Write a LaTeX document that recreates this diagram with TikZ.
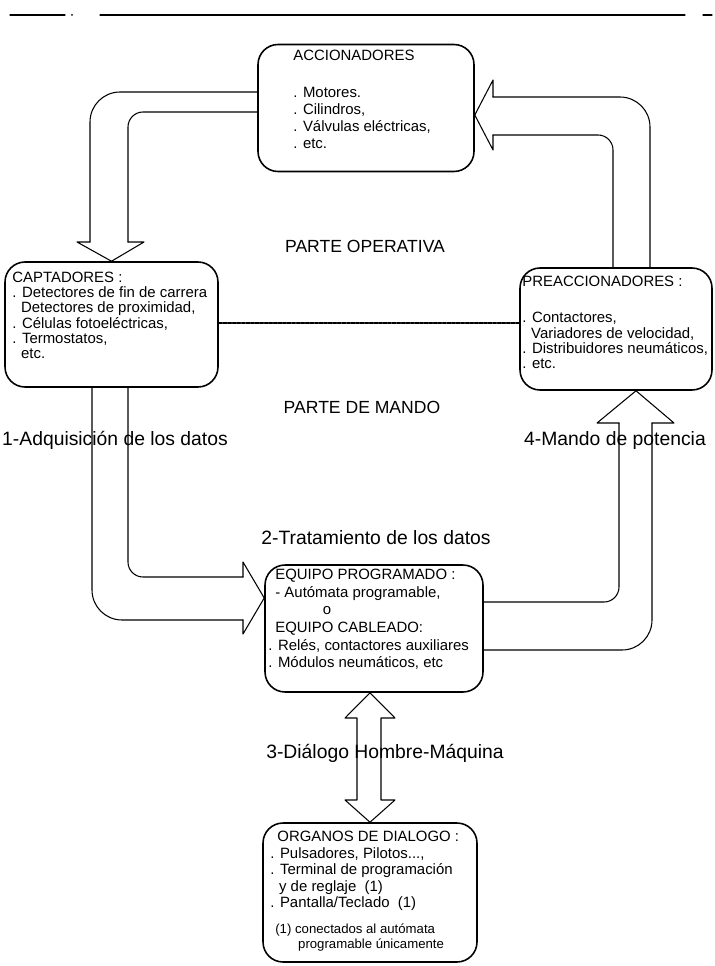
\documentclass[tikz,border=0pt]{standalone}
\usepackage{fontspec}
\setmainfont{Liberation Sans}
\tikzset{
  every picture/.style={line join=round, line cap=round},
  caja/.style={draw, rounded corners=0.4cm, line width=0.9pt, inner sep=0pt},
  texto/.style={anchor=north west, align=left, inner sep=0pt, font=\fontsize{8.5}{9.4}\selectfont},
  etiqueta/.style={inner sep=1pt, font=\fontsize{11}{13}\selectfont},
  flecha/.style={line width=0.6pt},
}
\begin{document}
\begin{tikzpicture}[x=0.02cm, y=-0.02cm]
\useasboundingbox (0,0) rectangle (715,966);
% raya de cabecera
\draw[line width=0.7pt] (10,15) -- (65,15) (100,15) -- (685,15) (703,15) -- (712,15);
\fill (72,15) circle (1);

% cajas
\node[caja, minimum width=4.32cm, minimum height=2.54cm] (acc) at (366,108) {};
\node[caja, minimum width=4.26cm, minimum height=2.5cm] (cap) at (111.5,324.5) {};
\node[caja, minimum width=3.84cm, minimum height=2.44cm] (pre) at (616,329) {};
\node[caja, minimum width=4.36cm, minimum height=2.54cm] (equ) at (374,628.5) {};
\node[caja, minimum width=4.28cm, minimum height=2.78cm] (dia) at (370,892.5) {};

\node[texto, font=\fontsize{8.5}{9.8}\selectfont] (acctxt) at (293,50)
  {ACCIONADORES\\[11pt] . Motores.\\ . Cilindros,\\ . Válvulas eléctricas,\\ . etc.};
\node[texto, font=\fontsize{8.5}{8.6}\selectfont] (captxt) at (12,272)
  {CAPTADORES :\\ . Detectores de fin de carrera\\ \hspace{5pt}Detectores de proximidad,\\
   . Células fotoeléctricas,\\ . Termostatos,\\ \hspace{5pt}etc.};
\node[texto, font=\fontsize{8.5}{8.6}\selectfont] (pretxt) at (522,276)
  {PREACCIONADORES :\\[12pt] . Contactores,\\ \hspace{5pt}Variadores de velocidad,\\
   . Distribuidores neumáticos,\\ . etc.};
\node[texto, font=\fontsize{8.5}{10}\selectfont] (equtxt) at (268,569)
  {\hspace{4pt}EQUIPO PROGRAMADO :\\ \hspace{4pt}- Autómata programable,\\ \hspace{31pt}o\\
   \hspace{4pt}EQUIPO CABLEADO:\\ . Relés, contactores auxiliares\\ . Módulos neumáticos, etc};
\node[texto] (diatxt) at (270,831)
  {\hspace{4pt}ORGANOS DE DIALOGO :\\ . Pulsadores, Pilotos...,\\ . Terminal de programación\\
   \hspace{5pt}y de reglaje \ (1)\\ . Pantalla/Teclado \ (1)};
\node[texto, font=\fontsize{7.5}{8.5}\selectfont] (notatxt) at (275,923)
  {(1) conectados al autómata\\ \hspace{13pt}programable únicamente};

% separacion operativa / mando
\draw[line width=0.8pt, dash pattern=on 2pt off 0.6pt] (cap.east |- 0,323) -- (pre.west |- 0,323);

% accionadores -> captadores
\draw[flecha, rounded corners=0.6cm] (acc.west |- 0,92) -| (90,242);
\draw[flecha, rounded corners=0.3cm] (acc.west |- 0,112) -| (128,242);
\draw[flecha] (90,242) -- (77,242) -- (cap.north) -- (144,242) -- (128,242);

% preaccionadores -> accionadores
\draw[flecha, rounded corners=0.3cm] (613,0 |- pre.north) |- (493,135);
\draw[flecha, rounded corners=0.6cm] (650,0 |- pre.north) |- (493,97);
\draw[flecha] (493,135) -- (493,150) -- (acc.east |- 0,115) -- (493,80) -- (493,97);

% captadores -> equipo
\draw[flecha, rounded corners=0.6cm] (92,0 |- cap.south) |- (243,620);
\draw[flecha, rounded corners=0.3cm] (128,0 |- cap.south) |- (243,577);
\draw[flecha] (243,577) -- (243,562) -- (equ.west |- 0,598) -- (243,634) -- (243,620);

% equipo -> preaccionadores
\draw[flecha, rounded corners=0.3cm] (equ.east |- 0,602) -| (619,423);
\draw[flecha, rounded corners=0.6cm] (equ.east |- 0,650) -| (652,423);
\draw[flecha] (619,423) -- (597,423) -- (636,0 |- pre.south) -- (674,423) -- (652,423);

% equipo <-> dialogo
\draw[flecha] (357,718) -- (345,718) -- (370,0 |- equ.south) -- (395,718) -- (381,718)
  -- (381,800) -- (395,800) -- (370,0 |- dia.north) -- (345,800) -- (357,800) -- cycle;

% rotulos
\node[etiqueta, font=\fontsize{10}{12}\selectfont] (opera) at (365,246) {PARTE OPERATIVA};
\node[etiqueta, font=\fontsize{10}{12}\selectfont] (mando) at (362,407) {PARTE DE MANDO};
\node[etiqueta] (adq) at (115,440) {1-Adquisición de los datos};
\node[etiqueta] (trat) at (376,538) {2-Tratamiento de los datos};
\node[etiqueta] (dial) at (385,753) {3-Diálogo Hombre-Máquina};
\node[etiqueta] (pot) at (615,440) {4-Mando de potencia};
\end{tikzpicture}
\end{document}
